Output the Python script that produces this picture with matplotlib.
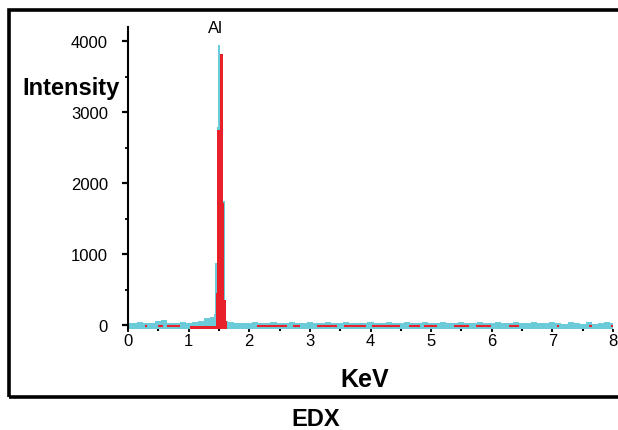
import numpy as np
import matplotlib
matplotlib.use('Agg')
import matplotlib.pyplot as plt
from matplotlib.patches import Rectangle

plt.rcParams['font.family'] = ['Liberation Sans', 'DejaVu Sans']

# baseline noise band of the cyan spectrum (counts), 0.1 keV channels 0..8 keV
band_kev = np.round(np.arange(0, 8.05, 0.1), 2)
band_top = [30, 35, 40, 30, 35, 50, 75, 35, 30, 40,
            35, 45, 60, 95, 120, 60, 50, 40, 35, 30,
            35, 40, 30, 35, 40, 30, 35, 40, 30, 35,
            40, 35, 30, 40, 35, 30, 40, 35, 30, 35,
            40, 30, 35, 40, 30, 35, 40, 30, 35, 40,
            30, 35, 40, 30, 35, 40, 35, 30, 40, 35,
            30, 40, 35, 30, 40, 35, 30, 40, 35, 30,
            40, 35, 10, 40, 35, 15, 40, 10, 35, 40, 35]

# Al K-alpha peak, cyan spectrum
cyan_edges = [1.42, 1.44, 1.46, 1.49, 1.51, 1.555, 1.60, 1.62]
cyan_counts = [150, 870, 2790, 3940, 3700, 1750, 200]

# Al K-alpha peak, red spectrum
red_edges = [1.02, 1.45, 1.475, 1.525, 1.57, 1.585, 1.62, 1.64]
red_counts = [-10, 450, 2750, 3815, 1720, 350, 50]

# short red segments in the baseline (keV)
red_dash_start = [0.28, 0.49, 0.64, 2.12, 2.72, 3.11, 3.57, 4.02, 4.64, 4.89,
                  5.38, 5.74, 6.29, 7.08, 7.60, 7.97]
red_dash_end = [0.31, 0.58, 0.86, 2.62, 2.83, 3.44, 3.93, 4.48, 4.81, 5.09,
                5.63, 5.99, 6.45, 7.11, 7.65, 8.00]

cyan = '#6ccbd9'
red = '#e8202a'

fig = plt.figure(figsize=(6.18, 4.31), dpi=100)
ax = fig.add_axes([128 / 618, 1 - 330.3 / 431, (613 - 128) / 618, (330.3 - 27.8) / 431])

base = -50
ax.fill_between(band_kev, base, band_top, step='mid', color=cyan, lw=0, zorder=2)
ax.stairs(cyan_counts, cyan_edges, baseline=base, fill=True, color=cyan, zorder=3)
ax.stairs(red_counts, red_edges, baseline=base, fill=True, color=red, zorder=4)
ax.hlines([-10] * len(red_dash_start), red_dash_start, red_dash_end, colors=red, lw=1.5, zorder=5)

ax.set_xlim(0, 8)
ax.set_ylim(-60, 4200)
ax.set_xticks(range(9))
ax.set_xticks(np.arange(0.5, 8, 1), minor=True)
ax.set_yticks([0, 1000, 2000, 3000, 4000])
ax.set_yticks([500, 1500, 2500, 3500], minor=True)

for s in ['top', 'right', 'bottom']:
    ax.spines[s].set_visible(False)
ax.spines['left'].set_linewidth(1.5)

ax.tick_params(axis='y', which='major', length=4.5, width=1.6, labelsize=12, pad=10)
ax.tick_params(axis='y', which='minor', length=2.5, width=1.3)
ax.tick_params(axis='x', which='major', length=2, width=1.3, labelsize=12, pad=1)
ax.tick_params(axis='x', which='minor', length=1.5, width=1.5)

fig.text(22 / 618, 1 - 95 / 431, 'Intensity', fontsize=17, fontweight='bold', va='baseline')
fig.text(365 / 618, 1 - 387 / 431, 'KeV', fontsize=18, fontweight='bold', va='baseline', ha='center')
fig.text(316 / 618, 0.0, 'EDX', fontsize=17, fontweight='bold', va='bottom', ha='center')
fig.text(215 / 618, 1 - 33 / 431, 'Al', fontsize=12, va='baseline', ha='center')

# outer frame, open to the right
fig.patches.append(Rectangle((9 / 618, 1 - 398 / 431), 1.2, (398 - 11) / 431,
                             transform=fig.transFigure, fill=False, lw=2.6,
                             edgecolor='black', clip_on=False))

fig.savefig('out.png', dpi=100)
